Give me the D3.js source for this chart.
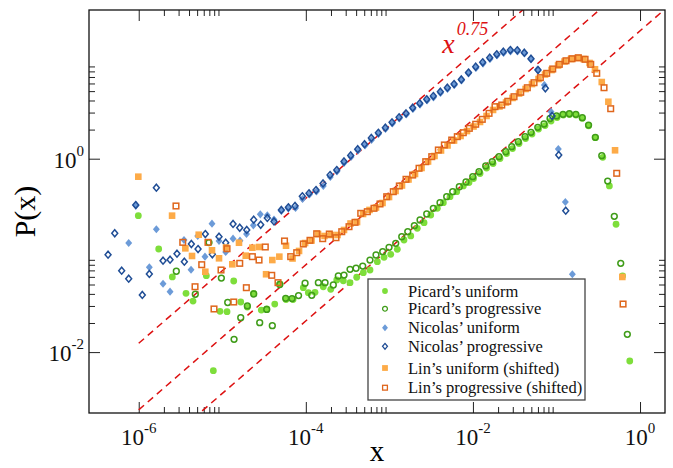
<!DOCTYPE html>
<html>
<head>
<meta charset="utf-8">
<script src="https://cdn.jsdelivr.net/npm/d3@7"></script>
<style>
  html, body { margin: 0; padding: 0; background: #fff; }
  svg { display: block; font-family: 'Liberation Serif', 'Times New Roman', serif; }
</style>
</head>
<body>
<div id="chart"></div>
<script>
// every point is [log10 x, log10 P(x)]
const picardUniform = [
  [-6.005, -0.589], [-5.761, -0.934], [-5.598, -1.223], [-5.434, -1.392], [-5.350, -1.472],
  [-5.191, -1.210], [-5.107, -2.192], [-5.027, -1.578], [-4.943, -1.582], [-4.863, -1.265],
  [-4.779, -1.482], [-4.700, -1.534], [-4.624, -1.392], [-4.533, -1.565], [-4.468, -1.554],
  [-4.372, -1.503], [-4.309, -1.296], [-4.237, -1.456], [-4.153, -1.456], [-4.030, -1.334],
  [-3.970, -1.386], [-3.890, -1.382], [-3.791, -1.324], [-3.702, -1.351], [-3.630, -1.254],
  [-3.551, -1.262], [-3.471, -1.282], [-3.391, -1.226], [-3.312, -1.179], [-3.232, -1.151],
  [-3.144, -1.065], [-3.064, -1.020], [-2.984, -0.989], [-2.905, -0.937], [-2.825, -0.841],
  [-2.744, -0.799], [-2.666, -0.720], [-2.585, -0.662], [-2.505, -0.582], [-2.426, -0.513],
  [-2.354, -0.455], [-2.274, -0.393], [-2.194, -0.341], [-2.115, -0.282], [-2.047, -0.246],
  [-1.993, -0.205], [-1.915, -0.153], [-1.837, -0.096], [-1.759, -0.050], [-1.676, 0.002],
  [-1.598, 0.054], [-1.526, 0.105], [-1.448, 0.157], [-1.370, 0.209], [-1.293, 0.255],
  [-1.215, 0.307], [-1.137, 0.343], [-1.065, 0.390], [-0.993, 0.426], [-0.918, 0.452],
  [-0.844, 0.457], [-0.766, 0.452], [-0.691, 0.418], [-0.616, 0.341], [-0.535, 0.217],
  [-0.446, 0.014], [-0.367, -0.282], [-0.287, -0.678], [-0.209, -1.213], [-0.123, -2.092]
]

const picardProgressive = [
  [-5.550, -1.164], [-5.323, -1.402], [-5.159, -0.867], [-5.011, -1.234], [-4.935, -1.487],
  [-4.859, -1.868], [-4.779, -1.644], [-4.700, -1.523], [-4.624, -1.399], [-4.552, -1.696],
  [-4.468, -1.559], [-4.401, -1.727], [-4.312, -1.301], [-4.241, -1.444], [-4.165, -1.446],
  [-4.087, -1.415], [-4.009, -1.288], [-3.929, -1.413], [-3.850, -1.282], [-3.770, -1.282],
  [-3.671, -1.306], [-3.611, -1.213], [-3.543, -1.203], [-3.471, -1.144], [-3.399, -1.133],
  [-3.319, -1.110], [-3.232, -1.048], [-3.160, -0.996], [-3.080, -0.962], [-3.004, -0.916],
  [-2.924, -0.875], [-2.852, -0.807], [-2.780, -0.755], [-2.701, -0.693], [-2.633, -0.634],
  [-2.553, -0.572], [-2.474, -0.513], [-2.394, -0.455], [-2.314, -0.393], [-2.242, -0.341],
  [-2.163, -0.290], [-2.083, -0.241], [-2.002, -0.186], [-1.927, -0.134], [-1.847, -0.075],
  [-1.768, -0.031], [-1.688, 0.021], [-1.607, 0.072], [-1.536, 0.124], [-1.457, 0.176],
  [-1.376, 0.228], [-1.305, 0.273], [-1.224, 0.325], [-1.149, 0.359], [-1.077, 0.416],
  [-0.999, 0.442], [-0.922, 0.459], [-0.846, 0.465], [-0.768, 0.459], [-0.691, 0.424],
  [-0.616, 0.348], [-0.535, 0.221], [-0.458, 0.031], [-0.387, -0.231], [-0.308, -0.596],
  [-0.231, -1.082], [-0.152, -1.816]
]

const nicolasUniform = [
  [-6.120, -0.872], [-6.032, -0.484], [-5.873, -1.123], [-5.789, -0.730], [-5.709, -1.293],
  [-5.625, -1.375], [-5.458, -0.841], [-5.374, -1.148], [-5.294, -0.799], [-5.207, -1.013],
  [-5.123, -0.672], [-5.039, -0.851], [-4.959, -0.965], [-4.871, -0.827], [-4.788, -0.848],
  [-4.710, -0.779], [-4.628, -0.689], [-4.545, -0.575], [-4.461, -0.585], [-4.381, -0.629],
  [-4.293, -0.541], [-4.209, -0.515], [-4.123, -0.510], [-4.039, -0.417], [-3.956, -0.370],
  [-3.872, -0.339], [-3.791, -0.282], [-3.707, -0.189], [-3.627, -0.132], [-3.543, -0.044],
  [-3.459, 0.018], [-3.375, 0.085], [-3.291, 0.137], [-3.214, 0.193], [-3.130, 0.255],
  [-3.046, 0.307], [-2.964, 0.364], [-2.880, 0.416], [-2.797, 0.457], [-2.717, 0.514],
  [-2.633, 0.560], [-2.549, 0.602], [-2.472, 0.633], [-2.388, 0.679], [-2.304, 0.721],
  [-2.222, 0.762], [-2.136, 0.809], [-2.053, 0.881], [-1.963, 0.938], [-1.879, 0.984],
  [-1.795, 1.031], [-1.712, 1.067], [-1.633, 1.093], [-1.550, 1.109], [-1.466, 1.109],
  [-1.382, 1.088], [-1.305, 1.026], [-1.227, 0.922], [-1.145, 0.762], [-1.065, 0.486],
  [-0.978, 0.100], [-0.894, -0.448], [-0.810, -1.195]
]

const nicolasProgressive = [
  [-6.367, -0.993], [-6.287, -0.771], [-6.204, -1.158], [-6.120, -1.241], [-6.036, -0.479],
  [-5.957, -1.409], [-5.873, -1.192], [-5.789, -0.300], [-5.709, -1.055], [-5.625, -1.044],
  [-5.542, -0.982], [-5.454, -1.065], [-5.370, -0.882], [-5.290, -0.934], [-5.203, -0.779],
  [-5.119, -0.989], [-5.039, -0.807], [-4.959, -0.869], [-4.871, -0.675], [-4.791, -0.714],
  [-4.707, -0.737], [-4.624, -0.631], [-4.540, -0.683], [-4.461, -0.613], [-4.381, -0.649],
  [-4.293, -0.530], [-4.209, -0.503], [-4.129, -0.489], [-4.042, -0.389], [-3.962, -0.358],
  [-3.878, -0.324], [-3.794, -0.256], [-3.710, -0.169], [-3.630, -0.117], [-3.543, -0.029],
  [-3.463, 0.033], [-3.379, 0.098], [-3.297, 0.150], [-3.216, 0.214], [-3.132, 0.268],
  [-3.048, 0.321], [-2.968, 0.376], [-2.884, 0.428], [-2.801, 0.469], [-2.721, 0.527],
  [-2.637, 0.573], [-2.553, 0.614], [-2.474, 0.648], [-2.390, 0.693], [-2.306, 0.734],
  [-2.226, 0.772], [-2.139, 0.819], [-2.053, 0.891], [-1.967, 0.951], [-1.883, 0.997],
  [-1.799, 1.044], [-1.715, 1.080], [-1.636, 1.107], [-1.552, 1.124], [-1.469, 1.121],
  [-1.385, 1.096], [-1.305, 1.034], [-1.221, 0.917], [-1.133, 0.728], [-1.053, 0.442],
  [-0.973, 0.038], [-0.889, -0.538]
]

const linUniform = [
  [-6.005, -0.186], [-5.601, -0.589], [-5.442, -0.927], [-5.362, -1.006], [-5.282, -0.786],
  [-5.203, -1.169], [-5.123, -0.947], [-5.039, -1.030], [-4.955, -0.918], [-4.880, -1.092],
  [-4.800, -0.869], [-4.719, -1.003], [-4.640, -0.920], [-4.560, -0.913], [-4.476, -1.195],
  [-4.401, -1.048], [-4.317, -1.013], [-4.237, -0.900], [-4.159, -1.032], [-4.081, -0.954],
  [-4.009, -0.872], [-3.932, -0.846], [-3.854, -0.779], [-3.776, -0.799], [-3.698, -0.789],
  [-3.621, -0.789], [-3.543, -0.737], [-3.465, -0.670], [-3.387, -0.655], [-3.315, -0.572],
  [-3.238, -0.530], [-3.160, -0.505], [-3.082, -0.458], [-3.004, -0.396], [-2.926, -0.334],
  [-2.849, -0.277], [-2.771, -0.215], [-2.693, -0.158], [-2.615, -0.096], [-2.537, -0.029],
  [-2.460, 0.028], [-2.382, 0.085], [-2.304, 0.137], [-2.226, 0.188], [-2.148, 0.235],
  [-2.071, 0.286], [-1.993, 0.333], [-1.915, 0.380], [-1.837, 0.442], [-1.759, 0.504],
  [-1.682, 0.540], [-1.604, 0.581], [-1.526, 0.628], [-1.448, 0.674], [-1.370, 0.721],
  [-1.293, 0.772], [-1.215, 0.824], [-1.137, 0.871], [-1.059, 0.917], [-0.981, 0.964],
  [-0.904, 1.005], [-0.826, 1.031], [-0.748, 1.041], [-0.676, 1.031], [-0.604, 0.990],
  [-0.539, 0.925], [-0.458, 0.793], [-0.379, 0.589], [-0.299, 0.087], [-0.212, -1.223]
]

const linProgressive = [
  [-5.554, -0.489], [-5.473, -0.865], [-5.326, -1.324], [-5.246, -1.096], [-5.171, -0.865],
  [-5.099, -1.554], [-5.015, -1.151], [-4.943, -0.931], [-4.863, -1.482], [-4.791, -1.082],
  [-4.712, -1.334], [-4.640, -1.013], [-4.560, -1.048], [-4.485, -0.913], [-4.408, -1.206],
  [-4.333, -1.282], [-4.255, -0.851], [-4.181, -1.013], [-4.109, -0.972], [-4.030, -0.882],
  [-3.950, -0.844], [-3.870, -0.776], [-3.798, -0.827], [-3.719, -0.779], [-3.639, -0.817],
  [-3.570, -0.755], [-3.483, -0.703], [-3.411, -0.658], [-3.343, -0.565], [-3.264, -0.548],
  [-3.184, -0.513], [-3.112, -0.468], [-3.032, -0.393], [-2.953, -0.341], [-2.881, -0.282],
  [-2.801, -0.213], [-2.721, -0.169], [-2.645, -0.099], [-2.565, -0.031], [-2.493, 0.021],
  [-2.414, 0.090], [-2.342, 0.142], [-2.254, 0.193], [-2.187, 0.228], [-2.115, 0.269],
  [-2.043, 0.314], [-1.967, 0.356], [-1.888, 0.407], [-1.807, 0.469], [-1.736, 0.538],
  [-1.655, 0.555], [-1.583, 0.594], [-1.508, 0.641], [-1.428, 0.687], [-1.349, 0.734],
  [-1.269, 0.786], [-1.193, 0.838], [-1.117, 0.883], [-1.045, 0.928], [-0.966, 0.976],
  [-0.886, 1.013], [-0.814, 1.034], [-0.738, 1.044], [-0.658, 1.028], [-0.590, 0.976],
  [-0.518, 0.883], [-0.431, 0.734], [-0.351, 0.517], [-0.279, -0.151], [-0.203, -1.503]
]

// dashed guides P = c * x^0.75, starting at x = 1e-6
const guideExponent = 0.75
const guideCoef = [390, 80, 21]
const guideX = [1e-6, 2]

const xMajor = [1e-6, 1e-4, 1e-2, 1]
const xMajorExp = ['-6', '-4', '-2', '0']
const yMajor = [1e-2, 1]
const yMajorExp = ['-2', '0']
const minorMult = [2, 3, 4, 5, 6, 7, 8, 9]

const legendLabels = [
  'Picard’s uniform',
  'Picard’s progressive',
  'Nicolas’ uniform',
  'Nicolas’ progressive',
  'Lin’s uniform (shifted)',
  'Lin’s progressive (shifted)',
]

const width = 673
const height = 468
const margin = { top: 10, right: 8, bottom: 55, left: 89 }
const innerW = width - margin.left - margin.right
const innerH = height - margin.top - margin.bottom

const svg = d3.select('#chart').append('svg').attr('width', width).attr('height', height)
const g = svg.append('g').attr('transform', `translate(${margin.left},${margin.top})`)

const x = d3.scaleLog().domain([2.54e-7, 1.99]).range([0, innerW])
const y = d3.scaleLog().domain([2.345e-3, 34.5]).range([innerH, 0])

const inX = (v) => v >= x.domain()[0] && v <= x.domain()[1]
const inY = (v) => v >= y.domain()[0] && v <= y.domain()[1]
const xMinor = xMajor.flatMap((m) => minorMult.map((k) => k * m)).filter(inX)
const yMinor = yMajor.flatMap((m) => minorMult.map((k) => k * m)).filter(inY)

svg.append('defs').append('clipPath').attr('id', 'plot-clip')
  .append('rect').attr('width', innerW).attr('height', innerH)

// ticks on all four sides, pointing inward
function drawTicks(axisFn, scale, values, size, transform) {
  g.append('g')
    .attr('transform', transform)
    .call(axisFn(scale).tickValues(values).tickSizeInner(-size).tickSizeOuter(0).tickFormat(''))
    .call((s) => s.select('.domain').remove())
    .call((s) => s.selectAll('line').attr('stroke', '#222').attr('stroke-width', 1))
}
drawTicks(d3.axisBottom, x, xMajor, 11, `translate(0,${innerH})`)
drawTicks(d3.axisBottom, x, xMinor, 6, `translate(0,${innerH})`)
drawTicks(d3.axisTop, x, xMajor, 11, 'translate(0,0)')
drawTicks(d3.axisTop, x, xMinor, 6, 'translate(0,0)')
drawTicks(d3.axisLeft, y, yMajor, 11, 'translate(0,0)')
drawTicks(d3.axisLeft, y, yMinor, 6, 'translate(0,0)')
drawTicks(d3.axisRight, y, yMajor, 11, `translate(${innerW},0)`)
drawTicks(d3.axisRight, y, yMinor, 6, `translate(${innerW},0)`)

// tick labels 10^n
xMajor.forEach((v, i) => {
  const t = g.append('text')
    .attr('x', x(v))
    .attr('y', innerH + 32)
    .attr('text-anchor', 'middle')
    .attr('font-size', 23)
    .attr('fill', '#111')
  t.append('tspan').text('10')
  t.append('tspan').attr('dy', -12).attr('font-size', 15).text(xMajorExp[i])
})
yMajor.forEach((v, i) => {
  const t = g.append('text')
    .attr('x', -5)
    .attr('y', y(v) + 9)
    .attr('text-anchor', 'end')
    .attr('font-size', 23)
    .attr('fill', '#111')
  t.append('tspan').text('10')
  t.append('tspan').attr('dy', -12).attr('font-size', 15).text(yMajorExp[i])
})

// axis titles
svg.append('text')
  .attr('x', margin.left + innerW / 2)
  .attr('y', 461)
  .attr('text-anchor', 'middle')
  .attr('font-size', 29)
  .text('x')
svg.append('text')
  .attr('transform', `translate(35,${margin.top + innerH / 2}) rotate(-90)`)
  .attr('text-anchor', 'middle')
  .attr('font-size', 30)
  .text('P(x)')

// dashed power-law guides
const guideLine = d3.line().x((d) => x(d[0])).y((d) => y(d[1]))
g.append('g').attr('clip-path', 'url(#plot-clip)')
  .selectAll('path')
  .data(guideCoef)
  .join('path')
  .attr('d', (c) => guideLine(guideX.map((xv) => [xv, c * Math.pow(xv, guideExponent)])))
  .attr('fill', 'none')
  .attr('stroke', '#dd1111')
  .attr('stroke-width', 1.5)
  .attr('stroke-dasharray', '7,5')

// "x^0.75" annotation
const ann = g.append('text')
  .attr('x', x(4.3e-3))
  .attr('y', 43)
  .attr('fill', '#dd1111')
  .attr('font-style', 'italic')
  .attr('font-size', 28)
ann.append('tspan').text('x')
ann.append('tspan').attr('dx', 2).attr('dy', -18).attr('font-size', 18).text('0.75')

// marker shapes
const diamond = (s) => `M0,${-s}L${s * 0.85},0L0,${s}L${-s * 0.85},0Z`
function drawMarker(sel, type, size) {
  if (type === 'circle') return sel.append('circle').attr('r', size)
  if (type === 'square') return sel.append('rect').attr('x', -size).attr('y', -size).attr('width', 2 * size).attr('height', 2 * size)
  return sel.append('path').attr('d', diamond(size * 1.2))
}

const series = [
  { data: picardUniform, type: 'circle', color: '#7ede3b', filled: true },
  { data: picardProgressive, type: 'circle', color: '#3f9c18', filled: false },
  { data: nicolasUniform, type: 'diamond', color: '#6c9bd8', filled: true },
  { data: nicolasProgressive, type: 'diamond', color: '#1f4d95', filled: false },
  { data: linUniform, type: 'square', color: '#fdab48', filled: true },
  { data: linProgressive, type: 'square', color: '#df661c', filled: false },
]

series.forEach((s) => {
  const pts = s.data.map(([lx, ly]) => [Math.pow(10, lx), Math.pow(10, ly)])
  const sg = g.append('g')
  pts.forEach((p) => {
    const m = sg.append('g').attr('transform', `translate(${x(p[0])},${y(p[1])})`)
    const sizeBase = s.type === 'circle' ? 3.4 : s.type === 'square' ? 3.3 : 3.4
    drawMarker(m, s.type, s.filled ? sizeBase : sizeBase - 0.5)
      .attr('fill', s.filled ? s.color : 'none')
      .attr('stroke', s.filled ? 'none' : s.color)
      .attr('stroke-width', 1.5)
  })
})

// frame
g.append('rect')
  .attr('width', innerW)
  .attr('height', innerH)
  .attr('fill', 'none')
  .attr('stroke', '#111')
  .attr('stroke-width', 1.3)

// legend
const legend = svg.append('g').attr('transform', 'translate(368,279)')
legend.append('rect')
  .attr('width', 217)
  .attr('height', 121)
  .attr('fill', '#fff')
  .attr('stroke', '#444')
  .attr('stroke-width', 1.3)
const rowY = [12, 29.7, 48.7, 67.3, 89, 108.7]
series.forEach((s, i) => {
  const row = legend.append('g').attr('transform', `translate(17,${rowY[i]})`)
  drawMarker(row, s.type, s.filled ? 2.9 : 2.4)
    .attr('fill', s.filled ? s.color : 'none')
    .attr('stroke', s.filled ? 'none' : s.color)
    .attr('stroke-width', 1.3)
  legend.append('text')
    .attr('x', 40)
    .attr('y', rowY[i] + 5.5)
    .attr('font-size', 16.5)
    .attr('fill', '#111')
    .text(legendLabels[i])
})
</script>
</body>
</html>
